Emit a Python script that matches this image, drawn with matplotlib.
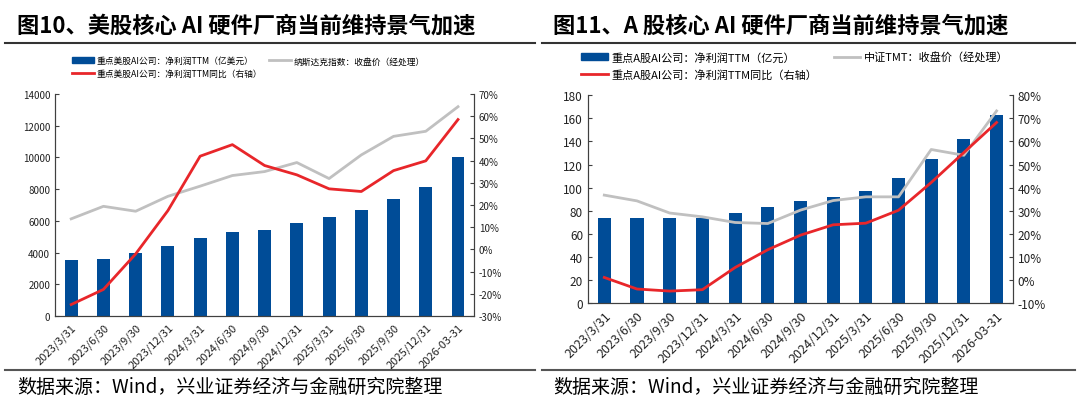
import matplotlib
matplotlib.use('Agg')
import matplotlib.pyplot as plt
import numpy as np
from matplotlib.ticker import FuncFormatter
from matplotlib.patches import Patch
from matplotlib.lines import Line2D

plt.rcParams['font.family'] = ['Noto Sans CJK SC', 'DejaVu Sans']

dates = ['2023/3/31', '2023/6/30', '2023/9/30', '2023/12/31', '2024/3/31', '2024/6/30',
         '2024/9/30', '2024/12/31', '2025/3/31', '2025/6/30', '2025/9/30', '2025/12/31',
         '2026-03-31']

# 图10 美股
us_profit = [3530, 3630, 4000, 4430, 4930, 5290, 5430, 5860, 6270, 6670, 7370, 8160, 10050]
us_nasdaq = [6130, 6920, 6610, 7550, 8190, 8860, 9110, 9680, 8670, 10160, 11330, 11650, 13200]
us_yoy = [-24.8, -18.0, -2.0, 17.5, 42.0, 47.2, 37.8, 33.6, 27.3, 26.1, 35.5, 39.9, 58.5]

# 图11 A股
a_profit = [74, 73.5, 73.5, 74, 78, 83, 88, 91.5, 97, 108, 125, 142, 163]
a_tmt = [93.5, 88.5, 78, 74.7, 69.8, 68.9, 80.5, 88.8, 92, 92, 133, 128, 166.4]
a_yoy = [1.1, -3.9, -4.8, -4.2, 5.4, 13.1, 19.4, 23.9, 24.6, 30.2, 42.2, 55.2, 68.2]

BLUE = '#004c97'
RED = '#e8262a'
GRAY = '#c0c0c0'
AX = '#404040'

fig = plt.figure(figsize=(10.8, 4.06), dpi=100)


def panel(rect, profit, idx, yoy, ylim, ystep, rlim, rstep, labels, title, tx, lx0, lx1,
          tick_fs, xl_fs, leg_fs, leg_x, leg_y, leg_hl, leg_cs, leg_ls):
    ax = fig.add_axes(rect)
    x = np.arange(len(dates))
    ax.bar(x, profit, width=0.4, color=BLUE, zorder=2)
    ax.plot(x, idx, color=GRAY, lw=2, zorder=3)
    ax2 = ax.twinx()
    ax2.plot(x, yoy, color=RED, lw=2, zorder=4)
    ax.set_xlim(-0.5, len(dates) - 0.5)
    ax.set_ylim(*ylim)
    ax.set_yticks(np.arange(ylim[0], ylim[1] + 1, ystep))
    ax2.set_ylim(*rlim)
    ax2.set_yticks(np.arange(rlim[0], rlim[1] + 1, rstep))
    ax2.yaxis.set_major_formatter(FuncFormatter(lambda v, p: f'{v:.0f}%'))
    ax.set_xticks(x)
    ax.set_xticklabels(dates, rotation=45, ha='right', rotation_mode='anchor', fontsize=xl_fs)
    for a in (ax, ax2):
        a.spines['top'].set_visible(False)
        for s in ('left', 'right', 'bottom'):
            a.spines[s].set_color(AX)
        a.tick_params(axis='y', direction='in', length=3, labelsize=tick_fs, color=AX, labelcolor='#222222')
    ax.tick_params(axis='x', length=0, pad=4, labelcolor='#222222')
    ax2.set_zorder(ax.get_zorder() + 1)
    ax2.patch.set_visible(False)

    handles = [Patch(color=BLUE), Line2D([], [], color=RED, lw=2), Line2D([], [], color=GRAY, lw=2)]
    ax.legend(handles, [labels[0], labels[2], labels[1]], ncol=2, fontsize=leg_fs, frameon=False,
              loc='lower left', bbox_to_anchor=(leg_x, leg_y), bbox_transform=fig.transFigure,
              handlelength=leg_hl, handleheight=0.6, columnspacing=leg_cs, labelspacing=leg_ls,
              handletextpad=0.3, borderaxespad=0, borderpad=0)

    fig.text(tx, 0.937, title, fontsize=16, fontweight='bold', va='center', ha='left')
    fig.add_artist(Line2D([lx0, lx1], [0.892, 0.892], color='#333333', lw=1.5, transform=fig.transFigure))
    fig.add_artist(Line2D([lx0, lx1], [0.085, 0.085], color='#555555', lw=1.5, transform=fig.transFigure))
    fig.text(tx, 0.045, '数据来源：Wind，兴业证券经济与金融研究院整理', fontsize=13.7, va='center', ha='left')


panel([0.051, 0.219, 0.388, 0.547], us_profit, us_nasdaq, us_yoy, (0, 14000), 2000, (-30, 70), 10,
      ['重点美股AI公司：净利润TTM（亿美元）', '纳斯达克指数：收盘价（经处理）', '重点美股AI公司：净利润TTM同比（右轴）'],
      '图10、美股核心 AI 硬件厂商当前维持景气加速', 0.016, 0.005, 0.495,
      7, 8, 6.3, 0.067, 0.805, 2.5, 0.8, 0.45)
panel([0.5444, 0.251, 0.3935, 0.512], a_profit, a_tmt, a_yoy, (0, 180), 20, (-10, 80), 10,
      ['重点A股AI公司：净利润TTM（亿元）', '中证TMT：收盘价（经处理）', '重点A股AI公司：净利润TTM同比（右轴）'],
      '图11、A 股核心 AI 硬件厂商当前维持景气加速', 0.512, 0.502, 0.995,
      8.5, 9, 8.0, 0.538, 0.8, 2.4, 1.5, 0.6)

fig.savefig('out.png', dpi=100)
